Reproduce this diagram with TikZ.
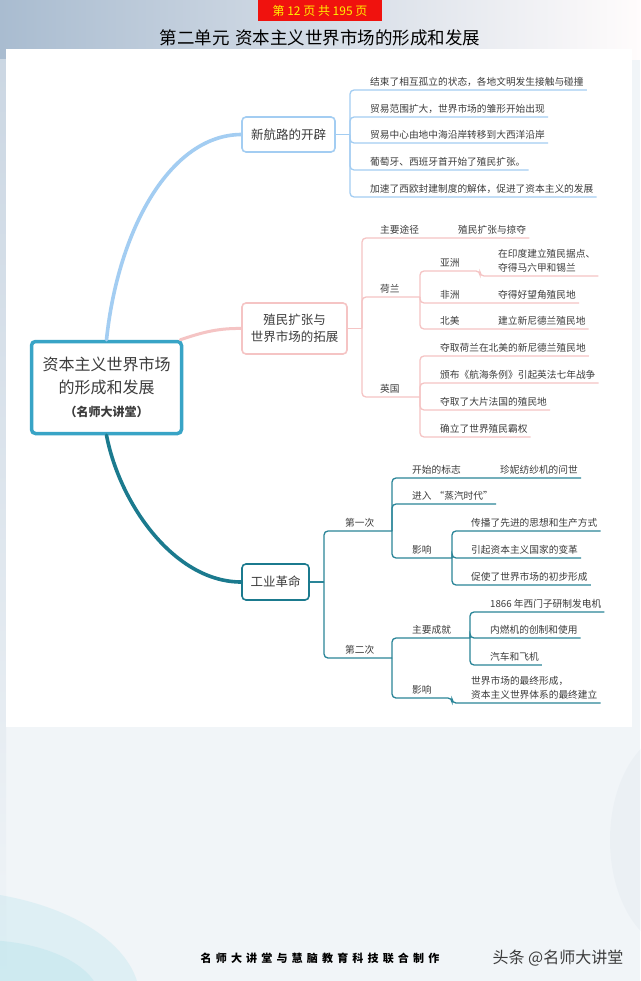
\documentclass[tikz,border=0pt]{standalone}
\usepackage{fontspec}
\newfontfamily\cjk{Noto Sans CJK SC}
\usetikzlibrary{calc}
\definecolor{txt}{HTML}{3C3C3C}
\definecolor{bluec}{HTML}{A3CDF2}
\definecolor{pinkc}{HTML}{F5C4C4}
\definecolor{tealc}{HTML}{1B7A8E}
\definecolor{tealline}{HTML}{2A8598}
\definecolor{rootc}{HTML}{38A4C6}
\definecolor{bgc}{HTML}{F1F5F8}
\definecolor{bgblue}{HTML}{A9BCD0}
\definecolor{redbox}{HTML}{F0120E}
\begin{document}
\begin{tikzpicture}[x=1pt,y=-1pt]
\useasboundingbox (0,0) rectangle (640,981);
\tikzset{
  leaf/.style={anchor=south west, inner xsep=3pt, inner ysep=2pt, text depth=2pt,
    font=\cjk\fontsize{9.7}{14}\selectfont, text=txt, align=left},
  topic/.style={draw, rounded corners=4pt, line width=1.6pt, fill=white,
    font=\cjk\fontsize{12.5}{17}\selectfont, text=txt, align=center, inner sep=0pt},
  bl/.style={draw=bluec, line width=1.3pt, rounded corners=4pt},
  pl/.style={draw=pinkc, line width=1.3pt, rounded corners=4pt},
  tl/.style={draw=tealline, line width=1.3pt, rounded corners=4pt},
}
% ---------- background ----------
\fill[bgc] (0,0) rectangle (640,981);
\shade[left color=bgblue, right color=white!95!pink] (0,0) rectangle (640,60);
\shade[top color=bgblue!60, bottom color=bgc] (0,60) rectangle (6,981);
\fill[bgblue!70!cyan, opacity=0.15] (-60,1000) ellipse [x radius=200pt, y radius=110pt];
\fill[bgblue!70!cyan, opacity=0.15] (-20,1000) ellipse [x radius=120pt, y radius=60pt];
\fill[bgblue, opacity=0.08] (680,840) ellipse [x radius=70pt, y radius=110pt];
\fill[white] (6,49) rectangle (632,727);

% ---------- header ----------
\node[fill=redbox, text=yellow, minimum width=124pt, minimum height=21pt, inner sep=0pt,
  font=\cjk\fontsize{12}{14}\selectfont] (page) at (320,10.5) {第 12 页 共 195 页};
\node[text=black, font=\cjk\fontsize{17.5}{20}\selectfont, inner sep=0pt] (title) at (320,38)
  {第二单元\hspace{6pt}资本主义世界市场的形成和发展};

% ---------- root ----------
\node[draw=rootc, line width=3.5pt, rounded corners=4pt, fill=white, minimum width=150pt,
  minimum height=92pt, align=center, text=txt, font=\cjk\fontsize{16}{23}\selectfont, inner sep=0pt]
  (root) at (106.5,387.5)
  {资本主义世界市场\\的形成和发展\\{\fontsize{12}{14}\selectfont\bfseries （名师大讲堂）}};

% ---------- main topics ----------
\node[topic, draw=bluec, minimum width=93pt, minimum height=35pt] (n1) at (288.5,134.5) {新航路的开辟};
\node[topic, draw=pinkc, minimum width=105pt, minimum height=51pt] (n2) at (294.5,328.5) {殖民扩张与\\世界市场的拓展};
\node[topic, draw=tealc, minimum width=67pt, minimum height=36pt] (n3) at (275.5,582) {工业革命};

\draw[bluec, line width=3.6pt, line cap=round] (root.north) .. controls (118,230) and (170,135) .. (n1.west);
\draw[pinkc, line width=3pt, line cap=round] ([xshift=-3pt]root.north east) .. controls (198,334) and (215,328) .. (n2.west);
\draw[tealc, line width=3.6pt, line cap=round] (root.south) .. controls (120,505) and (175,582) .. (n3.west);

% ---------- branch 1 ----------
\coordinate (j1) at (350,134.5);
\node[leaf] (a1) at (367,90) {结束了相互孤立的状态，各地文明发生接触与碰撞};
\node[leaf] (a2) at (367,117) {贸易范围扩大，世界市场的雏形开始出现};
\node[leaf] (a3) at (367,143) {贸易中心由地中海沿岸转移到大西洋沿岸};
\node[leaf] (a4) at (367,170) {葡萄牙、西班牙首开始了殖民扩张。};
\node[leaf] (a5) at (367,197) {加速了西欧封建制度的解体，促进了资本主义的发展};
\draw[bl] (n1.east) -- (j1);
\foreach \n in {a1,a2,a3,a4,a5} \draw[bl] (j1) |- (\n.south west) -- (\n.south east);

% ---------- branch 2 ----------
\coordinate (j2) at (362,328.5);
\draw[pl] (n2.east) -- (j2);
\node[leaf] (m1) at (377,238) {主要途径};
\node[leaf] (m1b) at (455,238) {殖民扩张与掠夺};
\draw[pl] (j2) |- (m1.south west) -- (m1b.south east);
% Netherlands
\node[leaf] (hl) at (377,297) {荷兰};
\coordinate (jh) at (420,297);
\draw[pl] (j2) |- (hl.south west) -- (jh);
\node[leaf] (yz) at (437,271) {亚洲};
\coordinate (jyz) at (480,271);
\node[leaf] (yzl) at (495,276) {在印度建立殖民据点、\\夺得马六甲和锡兰};
\draw[pl] (jh) |- (yz.south west) -- (jyz) |- (yzl.south west) -- (yzl.south east);
\node[leaf] (fz) at (437,303) {非洲};
\node[leaf] (fzl) at (495,303) {夺得好望角殖民地};
\draw[pl] (jh) |- (fz.south west) -- (fzl.south east);
\node[leaf] (bm) at (437,329) {北美};
\node[leaf] (bml) at (495,329) {建立新尼德兰殖民地};
\draw[pl] (jh) |- (bm.south west) -- (bml.south east);
% Britain
\node[leaf] (yg) at (377,397) {英国};
\coordinate (jy) at (420,397);
\draw[pl] (j2) |- (yg.south west) -- (jy);
\node[leaf] (e1) at (437,356) {夺取荷兰在北美的新尼德兰殖民地};
\node[leaf] (e2) at (437,383) {颁布《航海条例》引起英法七年战争};
\node[leaf] (e3) at (437,410) {夺取了大片法国的殖民地};
\node[leaf] (e4) at (437,437) {确立了世界殖民霸权};
\foreach \n in {e1,e2,e3,e4} \draw[pl] (jy) |- (\n.south west) -- (\n.south east);

% ---------- branch 3 ----------
\coordinate (j3) at (324,582);
\draw[tl] (n3.east) -- (j3);
\node[leaf] (d1) at (342,531) {第一次};
\coordinate (jd1) at (392,531);
\draw[tl] (j3) |- (d1.south west) -- (jd1);
\node[leaf] (k1) at (409,478) {开始的标志};
\node[leaf] (k1b) at (497,478) {珍妮纺纱机的问世};
\draw[tl] (jd1) |- (k1.south west) -- (k1b.south east);
\node[leaf] (k2) at (409,504) {进入\hspace{3pt}“蒸汽时代”};
\draw[tl] (jd1) |- (k2.south west) -- (k2.south east);
\node[leaf] (ky) at (409,558) {影响};
\coordinate (jky) at (452,558);
\draw[tl] (jd1) |- (ky.south west) -- (jky);
\node[leaf] (p1) at (468,531) {传播了先进的思想和生产方式};
\node[leaf] (p2) at (468,558) {引起资本主义国家的变革};
\node[leaf] (p3) at (468,585) {促使了世界市场的初步形成};
\foreach \n in {p1,p2,p3} \draw[tl] (jky) |- (\n.south west) -- (\n.south east);

\node[leaf] (d2) at (342,658) {第二次};
\coordinate (jd2) at (392,658);
\draw[tl] (j3) |- (d2.south west) -- (jd2);
\node[leaf] (z1) at (409,638) {主要成就};
\coordinate (jz) at (470,638);
\draw[tl] (jd2) |- (z1.south west) -- (jz);
\node[leaf] (q1) at (487,612) {1866 年西门子研制发电机};
\node[leaf] (q2) at (487,638) {内燃机的创制和使用};
\node[leaf] (q3) at (487,665) {汽车和飞机};
\foreach \n in {q1,q2,q3} \draw[tl] (jz) |- (\n.south west) -- (\n.south east);
\node[leaf] (ky2) at (409,698) {影响};
\coordinate (jk2) at (452,698);
\node[leaf] (r1) at (468,703) {世界市场的最终形成，\\资本主义世界体系的最终建立};
\draw[tl] (jd2) |- (ky2.south west) -- (jk2) |- (r1.south west) -- (r1.south east);

% ---------- footer ----------
\node[text=black, font=\cjk\bfseries\fontsize{11}{13}\selectfont\addfontfeature{LetterSpace=38}, inner sep=0pt]
  (foot) at (320,958) {名师大讲堂与慧脑教育科技联合制作};
\node[text=txt, font=\cjk\fontsize{16}{18}\selectfont, inner sep=0pt] (brand) at (558,958) {头条 @名师大讲堂};
\end{tikzpicture}
\end{document}
